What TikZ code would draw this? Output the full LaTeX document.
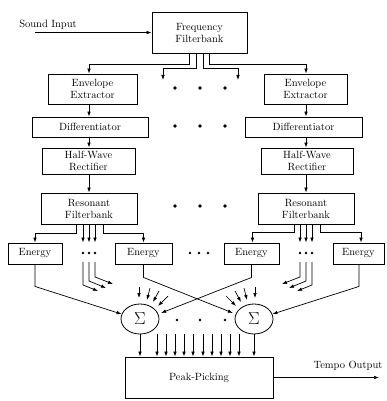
\documentclass[tikz,border=0pt]{standalone}
\usetikzlibrary{shapes.geometric,arrows.meta,calc}
\begin{document}
\begin{tikzpicture}[x=1pt,y=-1pt,
  every node/.style={font=\fontsize{10.5}{12}\selectfont},
  blk/.style={draw, line width=0.9pt, inner sep=0pt, align=center},
  arr/.style={-{Latex[length=5pt,width=3.6pt]}, line width=0.7pt},
  dotn/.style={circle, fill, inner sep=0pt, minimum size=3.8pt},
  sdot/.style={circle, fill, inner sep=0pt, minimum size=2.8pt},
  sig/.style={ellipse, draw, line width=0.8pt, inner sep=0pt, minimum width=38pt, minimum height=30pt, font=\fontsize{17}{17}\selectfont}
]
\useasboundingbox (0,0) rectangle (386,401);

% blocks
\node[blk, minimum width=95pt, minimum height=41pt] (ff) at (199.5,32.5) {Frequency\\Filterbank};
\node[blk, minimum width=89pt, minimum height=30pt] (envL) at (92.5,89) {Envelope\\Extractor};
\node[blk, minimum width=83pt, minimum height=30pt] (envR) at (305.5,89) {Envelope\\Extractor};
\node[blk, minimum width=116pt, minimum height=20pt] (difL) at (90,127) {Differentiator};
\node[blk, minimum width=117pt, minimum height=20pt] (difR) at (303.5,127) {Differentiator};
\node[blk, minimum width=93pt, minimum height=26pt] (hwL) at (88.5,161) {Half-Wave\\Rectifier};
\node[blk, minimum width=92pt, minimum height=26pt] (hwR) at (307,161) {Half-Wave\\Rectifier};
\node[blk, minimum width=96pt, minimum height=31pt] (rfL) at (89,208.5) {Resonant\\Filterbank};
\node[blk, minimum width=96pt, minimum height=31pt] (rfR) at (306,208.5) {Resonant\\Filterbank};
\node[blk, minimum width=54pt, minimum height=21pt] (E1) at (35,253.5) {Energy};
\node[blk, minimum width=57pt, minimum height=21pt] (E2) at (143.5,253.5) {Energy};
\node[blk, minimum width=55pt, minimum height=21pt] (E3) at (251.5,253.5) {Energy};
\node[blk, minimum width=51pt, minimum height=21pt] (E4) at (358.5,253.5) {Energy};
\node[sig] (sigL) at (140,319) {$\Sigma$};
\node[sig] (sigR) at (254,319) {$\Sigma$};
\node[blk, minimum width=148pt, minimum height=41pt] (pp) at (199,377.5) {Peak-Picking};

% labels
\node (sin) at (48,25) {Sound Input};
\node (tout) at (348,366) {Tempo Output};
\coordinate (sstart) at (35,32.5);
\coordinate (toutend) at (379,377.5);
\draw[arr] (sstart) -- (sstart -| ff.west);
\draw[arr] (pp.east) -- (toutend);

% filterbank outputs
\coordinate (fL) at (163,80);
\coordinate (fR) at (238,80);
\draw[arr] ([xshift=-10pt]ff.south) -- ++(0,11) -| ([xshift=-3.5pt]envL.north);
\draw[arr] ([xshift=10pt]ff.south) -- ++(0,11) -| ([xshift=0.5pt]envR.north);
\draw[arr] ([xshift=-3.5pt]ff.south) -- ++(0,15) -| (fL);
\draw[arr] ([xshift=3.5pt]ff.south) -- ++(0,15) -| (fR);

% chains
\foreach \a/\b in {envL/difL, difL/hwL, hwL/rfL} {
  \draw[arr] (89,0 |- \a.south) -- (89,0 |- \b.north);
}
\foreach \a/\b in {envR/difR, difR/hwR, hwR/rfR} {
  \draw[arr] (306,0 |- \a.south) -- (306,0 |- \b.north);
}

% dot rows
\foreach \y in {88,126,206} {
  \foreach \x in {175,200,225} {
    \node[dotn] (d-\y-\x) at (\x,\y) {};
  }
}

% resonant filterbank outputs
\draw[arr] (76,0 |- rfL.south) -- (76,233) -| (E1.north);
\draw[arr] (103,0 |- rfL.south) -- (103,233) -| (E2.north);
\draw[arr] (294,0 |- rfR.south) -- (294,232) -| ([xshift=1pt]E3.north);
\draw[arr] (320,0 |- rfR.south) -- (320,232) -| ([xshift=2.5pt]E4.north);
\foreach \x in {83,89,95} {
  \draw[arr] (\x,0 |- rfL.south) -- (\x,242.5);
  \node[sdot] (s-\x) at (\x,253) {};
}
\foreach \x in {300,306,312} {
  \draw[arr] (\x,0 |- rfR.south) -- (\x,242.5);
  \node[sdot] (s-\x) at (\x,253) {};
}
\foreach \x in {190,199,208} {
  \node[sdot] (m-\x) at (\x,253) {};
}

% bent arrows
\draw[arr] (83,262) -- (83,285) -- (98,291);
\draw[arr] (89,262) -- (89,281) -- (106,288);
\draw[arr] (95,262) -- (95,277) -- (113,284);
\draw[arr] (312,262) -- (312,285) -- (297,291);
\draw[arr] (306,262) -- (306,281) -- (289,288);
\draw[arr] (300,262) -- (300,277) -- (282,284);

% energy to sums
\draw[arr] (E1.south) -- ++(0,22) -- (sigL.165);
\draw[arr, shorten >=3pt] (E2.south) -- ++(0,13) -- (sigR.165);
\draw[arr, shorten >=3pt] (E3.south) -- ++(0,13) -- (sigL.15);
\draw[arr] ([xshift=0.5pt]E4.south) -- ++(0,22) -- (sigR.15);

% fans
\draw[arr] ($(sigL)+(-1,-32)$) -- ($(sigL)+(-1,-21)$);
\draw[arr] ($(sigL)+(10,-31)$) -- ($(sigL)+(7,-19)$);
\draw[arr] ($(sigL)+(19,-28)$) -- ($(sigL)+(13,-17)$);
\draw[arr] ($(sigL)+(28,-23)$) -- ($(sigL)+(18,-13)$);
\draw[arr] ($(sigR)+(1,-32)$) -- ($(sigR)+(1,-21)$);
\draw[arr] ($(sigR)+(-10,-31)$) -- ($(sigR)+(-7,-19)$);
\draw[arr] ($(sigR)+(-19,-28)$) -- ($(sigR)+(-13,-17)$);
\draw[arr] ($(sigR)+(-28,-23)$) -- ($(sigR)+(-18,-13)$);

% dots between sums
\foreach \x in {177,200,225} {
  \node[sdot] (ds-\x) at (\x,320) {};
}

% into peak picking
\draw[arr] (sigL.south) -- (sigL.south |- pp.north);
\draw[arr] (sigR.south) -- (sigR.south |- pp.north);
\foreach \x in {157,166,175,184,193,203,212,221,230,239} {
  \draw[arr] (\x,334) -- (\x,0 |- pp.north);
}
\end{tikzpicture}
\end{document}
